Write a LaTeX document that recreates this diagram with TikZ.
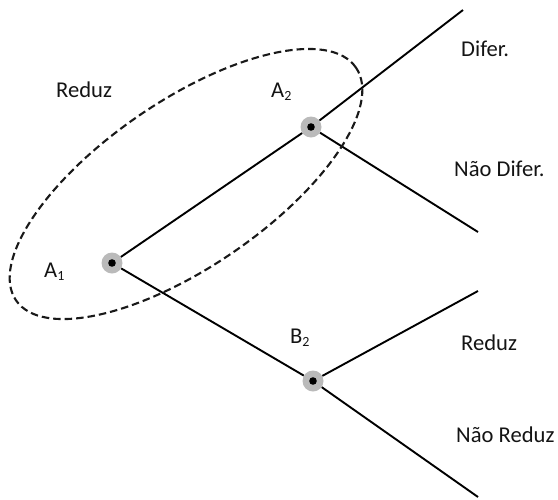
\documentclass[tikz,border=0pt]{standalone}
\usepackage{fontspec}
\setmainfont{Carlito}
\newcommand{\lblsub}[2]{#1\raisebox{-3.5pt}{\fontsize{14}{14}\selectfont #2}}
\tikzset{
  branch/.style={line width=1.9pt, black},
  chance/.style={circle, fill=black!27, inner sep=0pt, minimum size=21pt},
  lbl/.style={anchor=base west, inner sep=0pt, font=\fontsize{22.6}{26}\selectfont, text=black!92},
  infoset/.style={line width=2.1pt, dash pattern=on 7.5pt off 4pt, black!90}
}
\begin{document}
\begin{tikzpicture}[x=1pt, y=-1pt]
  \useasboundingbox (0,0) rectangle (558,499);

  % decision nodes
  \node[chance] (A1) at (112,263) {};
  \node[chance] (A2) at (311,127) {};
  \node[chance] (B2) at (313,381) {};
  \foreach \n in {A1,A2,B2} \fill[black] (\n) circle[radius=3.8pt];

  % free ends of the branches
  \coordinate (e1) at (463,10);
  \coordinate (e2) at (478,232);
  \coordinate (e3) at (478,291);
  \coordinate (e4) at (478,497);

  % branches
  \draw[branch] (A1) -- (A2);
  \draw[branch] (A1) -- (B2);
  \draw[branch] (A2) -- (e1);
  \draw[branch] (A2) -- (e2);
  \draw[branch] (B2) -- (e3);
  \draw[branch] (B2) -- (e4);

  % information set
  \begin{scope}[shift={(186,184)}, rotate=34.4]
    \draw[infoset] (0,0) ellipse [x radius=206pt, y radius=83pt];
  \end{scope}

  % labels
  \node[lbl] (tA1) at (44,277) {\lblsub{A}{1}};
  \node[lbl] (tA2) at (271,97) {\lblsub{A}{2}};
  \node[lbl] (tB2) at (290,343) {\lblsub{B}{2}};
  \node[lbl] (tR1) at (56,97) {Reduz};
  \node[lbl] (tD) at (461,56) {Difer.};
  \node[lbl] (tND) at (454,176) {Não Difer.};
  \node[lbl] (tR2) at (461,350) {Reduz};
  \node[lbl] (tNR) at (456,442) {Não Reduz};
\end{tikzpicture}
\end{document}
